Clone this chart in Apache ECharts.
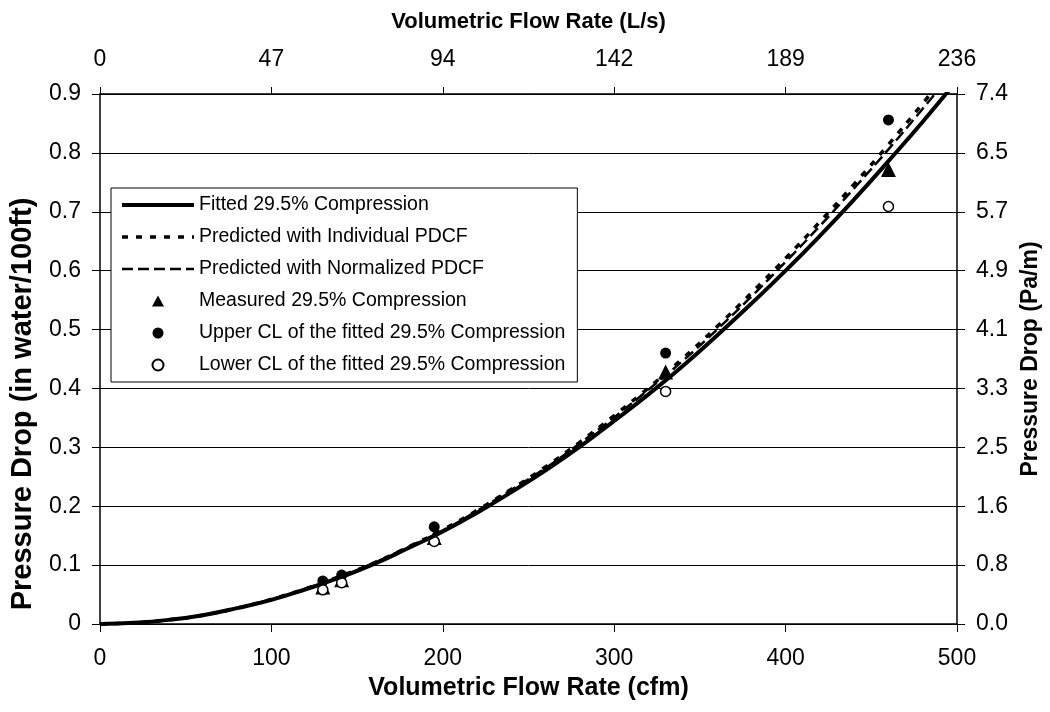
<!DOCTYPE html>
<html>
<head>
<meta charset="utf-8">
<title>Pressure Drop vs Volumetric Flow Rate</title>
<script src="https://cdn.jsdelivr.net/npm/echarts@6/dist/echarts.min.js"></script>
<style>
  html, body { margin: 0; padding: 0; background: #fff; }
  #chart { width: 1050px; height: 712px; }
</style>
</head>
<body>
<div id="chart"></div>
<script>
// curves, read every 20 cfm
var flowCfm = [0, 20, 40, 60, 80, 100, 120, 140, 160, 180, 200, 220, 240, 260, 280, 300, 320, 340, 360, 380, 400, 420, 440, 460, 480, 500]
var fitted = [0, 0.002, 0.007, 0.015, 0.027, 0.041, 0.059, 0.079, 0.102, 0.129, 0.157, 0.189, 0.224, 0.261, 0.301, 0.345, 0.390, 0.438, 0.490, 0.544, 0.600, 0.659, 0.721, 0.786, 0.853, 0.923]
var predIndividual = [0, 0.002, 0.007, 0.015, 0.027, 0.042, 0.060, 0.081, 0.104, 0.131, 0.160, 0.193, 0.229, 0.267, 0.309, 0.354, 0.401, 0.451, 0.505, 0.562, 0.621, 0.683, 0.747, 0.814, 0.884, 0.956]
var predNormalized = [0, 0.002, 0.007, 0.015, 0.027, 0.042, 0.060, 0.080, 0.104, 0.131, 0.159, 0.192, 0.228, 0.265, 0.307, 0.351, 0.398, 0.447, 0.500, 0.556, 0.615, 0.676, 0.740, 0.806, 0.875, 0.946]

// test points
var pointCfm = [130, 141, 195, 330, 460]
var measured = [0.063, 0.075, 0.147, 0.428, 0.772]
var upperCL = [0.073, 0.083, 0.165, 0.460, 0.856]
var lowerCL = [0.058, 0.070, 0.140, 0.395, 0.709]

// secondary axis labels (converted units)
var topLabels = ['0', '47', '94', '142', '189', '236']
var rightLabels = ['0.0', '0.8', '1.6', '2.5', '3.3', '4.1', '4.9', '5.7', '6.5', '7.4']

var font = 'Liberation Sans, Arial, sans-serif'

function pairs (xs, ys) {
  return xs.map(function (x, i) { return [x, ys[i]] })
}

var option = {
  animation: false,
  backgroundColor: '#fff',
  textStyle: { fontFamily: font, color: '#000' },
  grid: { left: 99, right: 82, top: 94, bottom: 88 },
  legend: {
    orient: 'vertical',
    left: 111,
    top: 188,
    padding: [6, 12, 6, 9],
    itemGap: 10,
    itemWidth: 72,
    itemHeight: 11,
    backgroundColor: '#fff',
    borderColor: '#000',
    borderWidth: 1,
    textStyle: { fontFamily: font, fontSize: 19.5, color: '#000', lineHeight: 22 },
    data: [
      { name: 'Fitted 29.5% Compression', itemStyle: { opacity: 0 }, lineStyle: { width: 4 } },
      { name: 'Predicted with Individual PDCF', itemStyle: { opacity: 0 }, lineStyle: { width: 3.5 } },
      { name: 'Predicted with Normalized PDCF', itemStyle: { opacity: 0 }, lineStyle: { width: 2.5 } },
      { name: 'Measured 29.5% Compression', icon: 'path://M6,0L12,11L0,11Z' },
      { name: 'Upper CL of the fitted 29.5% Compression', icon: 'circle' },
      { name: 'Lower CL of the fitted 29.5% Compression', icon: 'circle' }
    ]
  },
  xAxis: [
    {
      type: 'value',
      position: 'bottom',
      min: 0,
      max: 500,
      interval: 100,
      name: 'Volumetric Flow Rate (cfm)',
      nameLocation: 'middle',
      nameGap: 52,
      nameTextStyle: { fontFamily: font, fontSize: 25, fontWeight: 'bold', color: '#000' },
      axisLine: { show: true, onZero: false, lineStyle: { color: '#000', width: 1.5 } },
      axisTick: { show: true, length: 8, lineStyle: { color: '#000' } },
      axisLabel: { margin: 23, fontSize: 23, color: '#000', fontFamily: font },
      splitLine: { show: false }
    },
    {
      type: 'value',
      position: 'top',
      min: 0,
      max: 500,
      interval: 100,
      name: 'Volumetric Flow Rate (L/s)',
      nameLocation: 'middle',
      nameGap: 61,
      nameTextStyle: { fontFamily: font, fontSize: 22, fontWeight: 'bold', color: '#000' },
      axisLine: { show: true, onZero: false, lineStyle: { color: '#000', width: 1.5 } },
      axisTick: { show: true, length: 7, lineStyle: { color: '#000' } },
      axisLabel: {
        margin: 23,
        fontSize: 23,
        color: '#000',
        fontFamily: font,
        formatter: function (v) { return topLabels[Math.round(v / 100)] }
      },
      splitLine: { show: false }
    }
  ],
  yAxis: [
    {
      type: 'value',
      position: 'left',
      min: 0,
      max: 0.9,
      interval: 0.1,
      name: 'Pressure Drop (in water/100ft)',
      nameLocation: 'middle',
      nameGap: 63,
      nameTextStyle: { fontFamily: font, fontSize: 29, fontWeight: 'bold', color: '#000', padding: [0, 90, 0, 0] },
      axisLine: { show: true, onZero: false, lineStyle: { color: '#000', width: 1.5 } },
      axisTick: { show: true, length: 8, lineStyle: { color: '#000' } },
      axisLabel: {
        margin: 19,
        fontSize: 23,
        color: '#000',
        fontFamily: font,
        formatter: function (v) {
          var i = Math.round(v * 10)
          return i === 0 ? '0' : (i / 10).toFixed(1)
        }
      },
      splitLine: { show: true, lineStyle: { color: '#000', width: 1 } }
    },
    {
      type: 'value',
      position: 'right',
      min: 0,
      max: 0.9,
      interval: 0.1,
      name: 'Pressure Drop (Pa/m)',
      nameLocation: 'middle',
      nameGap: 62,
      nameRotate: 90,
      nameTextStyle: { fontFamily: font, fontSize: 23, fontWeight: 'bold', color: '#000' },
      axisLine: { show: true, onZero: false, lineStyle: { color: '#000', width: 1.5 } },
      axisTick: { show: true, length: 8, lineStyle: { color: '#000' } },
      axisLabel: {
        margin: 19,
        fontSize: 23,
        color: '#000',
        fontFamily: font,
        formatter: function (v) { return rightLabels[Math.round(v * 10)] }
      },
      splitLine: { show: false }
    }
  ],
  series: [
    {
      name: 'Fitted 29.5% Compression',
      type: 'line',
      smooth: true,
      symbol: 'none',
      lineStyle: { color: '#000', width: 4 },
      data: pairs(flowCfm, fitted)
    },
    {
      name: 'Predicted with Individual PDCF',
      type: 'line',
      smooth: true,
      symbol: 'none',
      lineStyle: { color: '#000', width: 3.5, type: [6, 8] },
      data: pairs(flowCfm, predIndividual)
    },
    {
      name: 'Predicted with Normalized PDCF',
      type: 'line',
      smooth: true,
      symbol: 'none',
      lineStyle: { color: '#000', width: 2.5, type: [11, 5] },
      data: pairs(flowCfm, predNormalized)
    },
    {
      name: 'Measured 29.5% Compression',
      type: 'scatter',
      symbol: 'triangle',
      symbolSize: 15,
      itemStyle: { color: '#000', opacity: 1 },
      data: pairs(pointCfm, measured)
    },
    {
      name: 'Upper CL of the fitted 29.5% Compression',
      type: 'scatter',
      symbol: 'circle',
      symbolSize: 11,
      itemStyle: { color: '#000', opacity: 1 },
      data: pairs(pointCfm, upperCL)
    },
    {
      name: 'Lower CL of the fitted 29.5% Compression',
      type: 'scatter',
      symbol: 'circle',
      symbolSize: 10,
      itemStyle: { color: '#fff', borderColor: '#000', borderWidth: 1.5, opacity: 1 },
      data: pairs(pointCfm, lowerCL)
    }
  ]
}

var chart = echarts.init(document.getElementById('chart'))
chart.setOption(option)
</script>
</body>
</html>
